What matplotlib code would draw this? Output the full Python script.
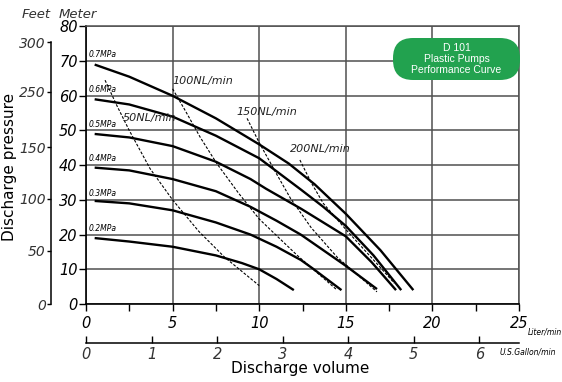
import numpy as np
import matplotlib
matplotlib.use('Agg')
from matplotlib import pyplot as plt
from matplotlib.patches import FancyBboxPatch

# pressure curves: discharge volume (L/min) vs discharge head (m)
q07 = [0.5, 2.5, 5, 7.5, 10, 11.7, 13.2, 15, 17, 18.9]
h07 = [69, 65.5, 60, 53.5, 46, 40.5, 34.5, 26, 15.5, 4]
q06 = [0.5, 2.5, 5, 7.5, 10, 12.4, 13.7, 15, 16.6, 18.2]
h06 = [59, 57.5, 54, 48.5, 42, 33, 28, 22.5, 14, 4]
q05 = [0.5, 2.5, 5, 7.5, 9.5, 10.4, 12.4, 13.7, 15, 16.5, 17.9]
h05 = [49, 48, 45.5, 41, 36, 33.2, 27.5, 23.5, 19.5, 12, 4]
q04 = [0.5, 2.5, 5, 7.5, 9.5, 11, 12.4, 13.7, 15, 16.8]
h04 = [39.3, 38.5, 36, 32.5, 28, 24, 20, 15.5, 11, 4.3]
q03 = [0.5, 2.5, 5, 7.5, 9.5, 11, 12.4, 13.1, 14.75]
h03 = [29.7, 29, 27, 23.5, 20, 16.5, 12.7, 10.2, 4]
q02 = [0.5, 2.5, 5, 7.5, 9, 10, 11, 12]
h02 = [19, 18, 16.5, 14, 11.8, 10, 7.2, 4]
mpa_names = ['0.7MPa', '0.6MPa', '0.5MPa', '0.4MPa', '0.3MPa', '0.2MPa']
mpa_levels = [70, 60, 50, 40, 30, 20]

# air consumption lines
q50 = [1.1, 1.8, 2.5, 3.7, 5, 6.5, 8, 10]
h50 = [64.5, 57, 50, 39, 30, 21, 13.5, 5.3]
q100 = [5, 5.7, 6.6, 7.55, 8.8, 10, 12.2, 14.5]
h100 = [62, 56, 48, 40.5, 32, 24.5, 14, 4]
q150 = [9.3, 10, 11, 11.8, 13, 14.5, 16.8]
h150 = [53.5, 46.5, 37.5, 30.5, 22, 13.5, 3.5]
q200 = [12.35, 13, 13.7, 15, 16, 17, 17.8]
h200 = [41.5, 35, 29, 21.5, 16, 10.5, 6]
air_names = ['50NL/min', '100NL/min', '150NL/min', '200NL/min']
air_label_pos = [(2.15, 53.6), (5.0, 64.2), (8.7, 55.4), (11.8, 44.8)]

meter_ticks = [0, 10, 20, 30, 40, 50, 60, 70, 80]
feet_labels = ['0', '50', '100', '150', '250', '300']
feet_pos = [0, 15.3, 30.3, 45.2, 61.1, 75.5]
liter_ticks = [0, 5, 10, 15, 20, 25]
gallon_ticks = [0, 1, 2, 3, 4, 5, 6]
L_PER_GAL = 3.785

fig = plt.figure(figsize=(5.62, 3.82), dpi=100)
ax = fig.add_axes([86/562, 1-304/382, 433/562, 277.6/382])
ax.set_xlim(0, 25)
ax.set_ylim(0, 80)

gridc = '#505050'
ax.set_xticks(liter_ticks)
ax.set_xticks(np.arange(2.5, 25, 5), minor=True)
ax.set_yticks(meter_ticks)
ax.grid(True, which='major', color=gridc, lw=1.1)
for s in ['top', 'right']:
    ax.spines[s].set_color(gridc)
    ax.spines[s].set_linewidth(1.1)
for s in ['left', 'bottom']:
    ax.spines[s].set_linewidth(1.2)
ax.tick_params(axis='x', which='both', direction='out', length=5, width=1, pad=4,
               labelsize=10.5)
ax.tick_params(axis='y', direction='out', length=5, width=1, pad=1, labelsize=10.5)
for t in ax.get_xticklabels() + ax.get_yticklabels():
    t.set_fontstyle('italic')

curves = [(q07, h07), (q06, h06), (q05, h05), (q04, h04), (q03, h03), (q02, h02)]
for (q, h), name, lev in zip(curves, mpa_names, mpa_levels):
    ax.plot(q, h, color='black', lw=1.7, solid_capstyle='butt', zorder=3)
    ax.text(0.15, lev + 0.5, name, fontsize=5.5, style='italic', va='bottom', ha='left')

airs = [(q50, h50), (q100, h100), (q150, h150), (q200, h200)]
for (q, h), name, pos in zip(airs, air_names, air_label_pos):
    ax.plot(q, h, color='black', lw=0.8, ls=(0, (2.5, 1.5)), zorder=3)
    ax.text(pos[0], pos[1], name, fontsize=8, style='italic', va='center', ha='left',
            color='#222222')

# feet scale on the left
ax2 = ax.twinx()
ax2.set_ylim(0, 80)
for s in ['right', 'top', 'bottom']:
    ax2.spines[s].set_visible(False)
ax2.spines['left'].set_visible(True)
ax2.spines['left'].set_position(('outward', 25))
ax2.spines['left'].set_bounds(0, 75.5)
ax2.spines['left'].set_linewidth(1.1)
ax2.yaxis.set_ticks_position('left')
ax2.yaxis.set_label_position('left')
ax2.set_yticks(feet_pos)
ax2.set_yticklabels(feet_labels)
ax2.tick_params(axis='y', direction='out', length=3, width=1, pad=1, labelsize=10,
                labelcolor='#333333')
for t in ax2.get_yticklabels():
    t.set_fontstyle('italic')

# gallon scale below
ax3 = ax.twiny()
ax3.set_xlim(0, 25)
for s in ['right', 'top', 'left']:
    ax3.spines[s].set_visible(False)
ax3.spines['bottom'].set_visible(True)
ax3.spines['bottom'].set_position(('outward', 28))
ax3.spines['bottom'].set_bounds(0, 25)
ax3.spines['bottom'].set_linewidth(1.1)
ax3.xaxis.set_ticks_position('bottom')
ax3.set_xticks([g * L_PER_GAL for g in gallon_ticks])
ax3.set_xticklabels([str(g) for g in gallon_ticks])
ax3.tick_params(axis='x', direction='in', length=5, width=1, pad=3, labelsize=10.5,
                labelcolor='#333333')
for t in ax3.get_xticklabels():
    t.set_fontstyle('italic')

fig.text(528/562, 1-332/382, 'Liter/min', fontsize=5.5, style='italic', va='center')
fig.text(500/562, 1-352/382, 'U.S.Gallon/min', fontsize=5.5, style='italic', va='center')
fig.text(300/562, 1-369/382, 'Discharge volume', fontsize=11, ha='center', va='center')
fig.text(10/562, 1-167/382, 'Discharge pressure', fontsize=11, rotation=90,
         ha='center', va='center')
fig.text(36/562, 1-14/382, 'Feet', fontsize=9.5, style='italic', ha='center', va='center',
         color='#333333')
fig.text(78/562, 1-14/382, 'Meter', fontsize=9.5, style='italic', ha='center', va='center',
         color='#333333')

# green badge
badge = FancyBboxPatch((3.93, 3.02), 1.27, 0.42, boxstyle='round,pad=0,rounding_size=0.2',
                       transform=fig.dpi_scale_trans, facecolor='#22a24f',
                       edgecolor='none', zorder=10, clip_on=False)
ax.add_patch(badge)
fig.text(456.5/562, 1-59/382, 'D 101\nPlastic Pumps\nPerformance Curve', fontsize=7.5,
         color='white', ha='center', va='center', linespacing=1.15,
         family='Liberation Sans', zorder=11)

fig.savefig('out.png', dpi=100)
